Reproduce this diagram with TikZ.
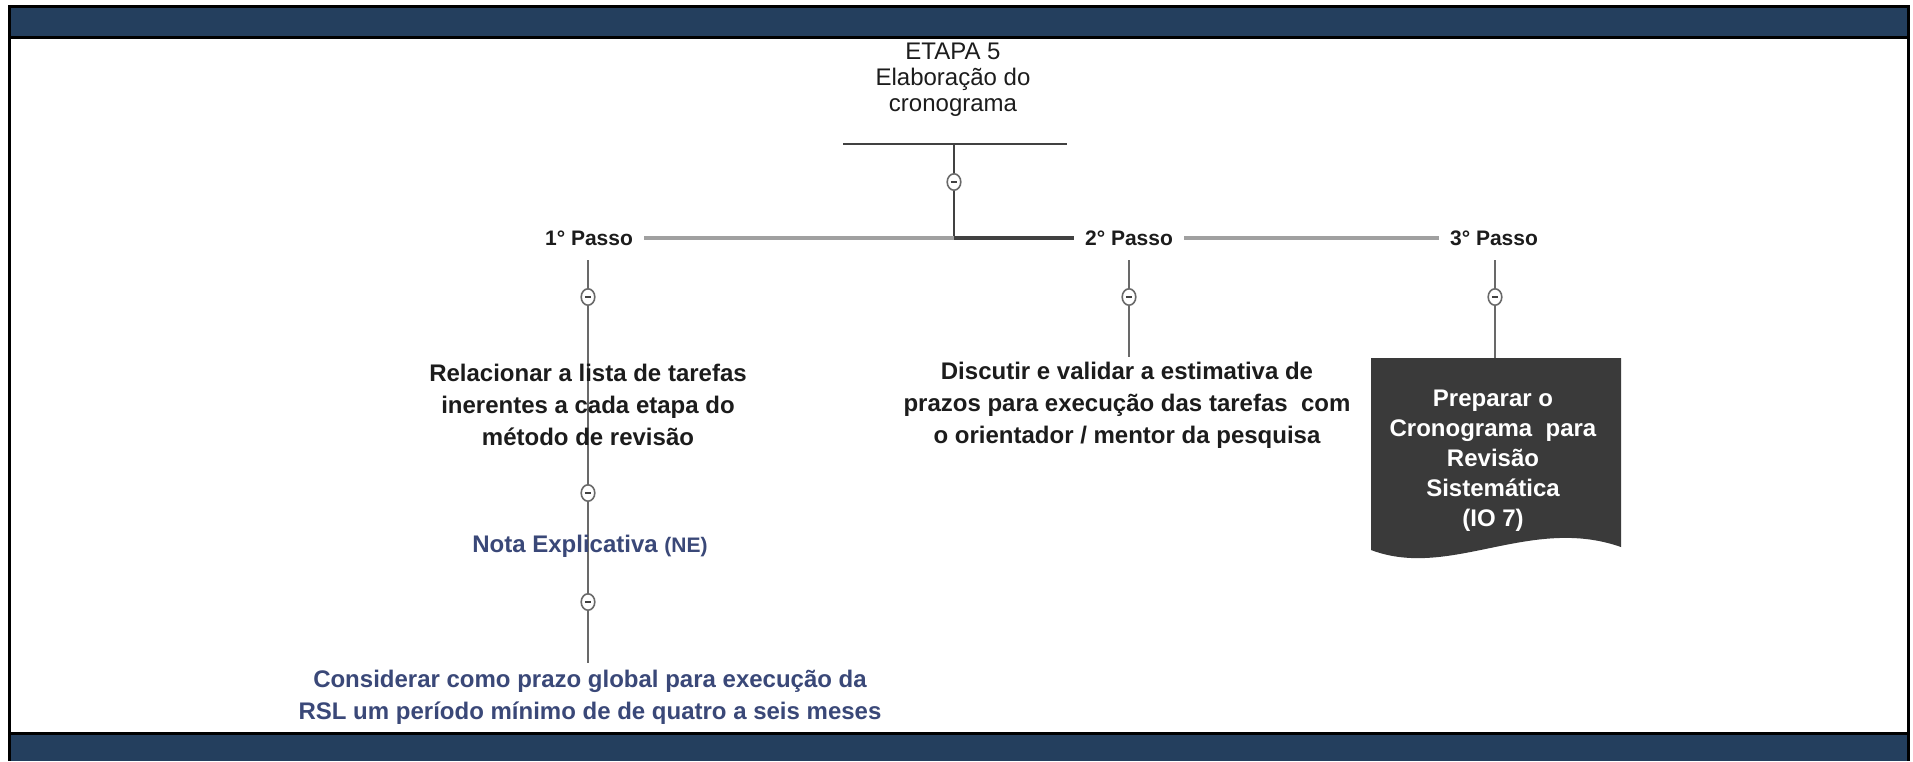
\documentclass[tikz,border=0pt]{standalone}
\usepackage{fontspec}
\setmainfont{Liberation Sans}
\usetikzlibrary{shapes.geometric}
\definecolor{band}{RGB}{36,63,94}
\definecolor{txt}{RGB}{28,28,28}
\definecolor{note}{RGB}{58,72,120}
\definecolor{boxgray}{RGB}{58,58,58}
\definecolor{lightbar}{RGB}{160,160,160}
\definecolor{darkbar}{RGB}{65,65,65}
\definecolor{conn}{RGB}{105,105,105}
\begin{document}
\begin{tikzpicture}[x=0.5pt,y=-0.5pt,
  knob/.style={ellipse,draw=conn,fill=white,line width=0.8pt,minimum width=6.8pt,minimum height=8.2pt,inner sep=0pt,
    path picture={\draw[darkbar,line width=0.9pt]([xshift=-1.6pt]path picture bounding box.center)--([xshift=1.6pt]path picture bounding box.center);}},
  passo/.style={font=\fontsize{10.5}{12}\selectfont\bfseries,text=txt,inner xsep=5.5pt,inner ysep=2pt},
  body/.style={font=\fontsize{12}{16}\selectfont\bfseries,text=txt,align=center,inner sep=0pt},
  titlestyle/.style={font=\fontsize{12}{13}\selectfont,text=txt,align=center,inner sep=0pt},
  connline/.style={conn,line width=1.1pt}]
\fill[white] (0,0) rectangle (1913,761);
\useasboundingbox (0,0) rectangle (1913,761);
% frame and bands
\fill[band] (9,6) rectangle (1908,37);
\fill[band] (9,733) rectangle (1908,761);
\draw[black,line width=1.5pt] (9,761) -- (9,6) -- (1908,6) -- (1908,761);
\draw[black,line width=1.5pt] (9,37) -- (1908,37);
\draw[black,line width=1.5pt] (9,733) -- (1908,733);
% title
\node[titlestyle] (t) at (953,80) {ETAPA 5\\Elaboração do\\cronograma};
\coordinate (ul) at (843,144);
\coordinate (ur) at (1067,144);
\coordinate (um) at (954,144);
\draw[darkbar,line width=1.1pt] (ul) -- (ur);
\node[knob] (k0) at (954,182) {};
\coordinate (j) at (954,238);
\draw[darkbar,line width=1.4pt] (um) -- (k0) -- (j);
% passos
\node[passo] (p1) at (589,238) {1° Passo};
\node[passo] (p2) at (1129,238) {2° Passo};
\node[passo] (p3) at (1494,238) {3° Passo};
\draw[lightbar,line width=1.6pt] (p1.east) -- (j);
\draw[darkbar,line width=2.1pt] (j) -- (p2.west);
\draw[lightbar,line width=1.6pt] (p2.east) -- (p3.west);
% column 1
\coordinate (v1) at (588,260);
\node[knob] (k1) at (588,297) {};
\node[knob] (k2) at (588,493) {};
\node[knob] (k3) at (588,602) {};
\coordinate (v1e) at (588,663);
\draw[connline] (v1) -- (k1) -- (k2) -- (k3) -- (v1e);
\node[body] (r1) at (588,405) {Relacionar a lista de tarefas\\inerentes a cada etapa do\\método de revisão};
\node[body,text=note] (n1) at (590,546) {Nota Explicativa {\fontsize{10.5}{12}\selectfont(NE)}};
\node[body,text=note] (n2) at (590,697) {Considerar como prazo global para execução da\\RSL um período mínimo de de quatro a seis meses};
% column 2
\coordinate (v2) at (1129,260);
\node[knob] (k4) at (1129,297) {};
\coordinate (v2e) at (1129,357);
\draw[connline] (v2) -- (k4) -- (v2e);
\node[body] (d1) at (1127,405) {Discutir e validar a estimativa de\\prazos para execução das tarefas\ \ com\\o orientador / mentor da pesquisa};
% column 3
\fill[boxgray] (1371,358) -- (1621,358) -- (1621,547) .. controls (1530,515) and (1450,580) .. (1371,550) -- cycle;
\coordinate (v3) at (1495,260);
\node[knob] (k5) at (1495,297) {};
\coordinate (bt) at (1495,358);
\draw[connline] (v3) -- (k5) -- (bt);
\node[body,text=white,font=\fontsize{12}{15}\selectfont\bfseries] (b1) at (1493,461) {Preparar o\\Cronograma\ \ para\\Revisão\\Sistemática\\(IO 7)};
\end{tikzpicture}
\end{document}
